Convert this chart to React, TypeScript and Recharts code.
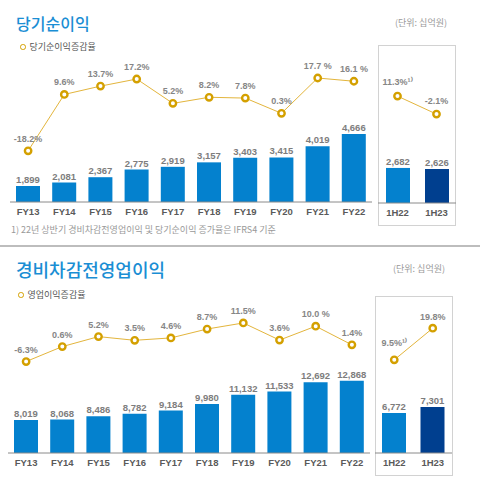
import { Bar, Cell, ComposedChart, LabelList, Line, XAxis, YAxis } from 'recharts';

const fyYears = ['FY13', 'FY14', 'FY15', 'FY16', 'FY17', 'FY18', 'FY19', 'FY20', 'FY21', 'FY22'];
const halves = ['1H22', '1H23'];

const netIncome = [1899, 2081, 2367, 2775, 2919, 3157, 3403, 3415, 4019, 4666];
const netIncomeRate = [-18.2, 9.6, 13.7, 17.2, 5.2, 8.2, 7.8, 0.3, 17.7, 16.1];
const netIncomeRateLabels = ['-18.2%', '9.6%', '13.7%', '17.2%', '5.2%', '8.2%', '7.8%', '0.3%', '17.7 %', '16.1 %'];
const netIncomeHalf = [2682, 2626];
const netIncomeHalfRate = [11.3, -2.1];
const netIncomeHalfRateLabels = ['11.3%¹⁾', '-2.1%'];

const operating = [8019, 8068, 8486, 8782, 9184, 9980, 11132, 11533, 12692, 12868];
const operatingRate = [-6.3, 0.6, 5.2, 3.5, 4.6, 8.7, 11.5, 3.6, 10.0, 1.4];
const operatingRateLabels = ['-6.3%', '0.6%', '5.2%', '3.5%', '4.6%', '8.7%', '11.5%', '3.6%', '10.0 %', '1.4%'];
const operatingHalf = [6772, 7301];
const operatingHalfRate = [9.5, 19.8];
const operatingHalfRateLabels = ['9.5%¹⁾', '19.8%'];

const KR = '"Noto Sans CJK KR", sans-serif';
const LATIN = '"Liberation Sans", Arial, sans-serif';
const BLUE = '#0481ce';
const NAVY = '#003f8f';
const GOLD = '#d4a000';

type PanelProps = {
  left: number;
  top: number;
  width: number;
  plotHeight: number;
  categories: string[];
  values: number[];
  rates: number[];
  rateLabels: string[];
  barDomain: number[];
  rateDomain: number[];
  lastDark?: boolean;
  labelLift?: number[];
};

function Panel({ left, top, width, plotHeight, categories, values, rates, rateLabels, barDomain, rateDomain, lastDark, labelLift }: PanelProps) {
  const rows = categories.map((name, i) => ({
    name,
    value: values[i],
    rate: rates[i],
    rateLabel: rateLabels[i],
  }));

  // the rate labels sit a little higher over some points in the original
  const rateLabel = (props: any) => {
    const lift = labelLift ? labelLift[props.index] : 7;
    return (
      <text
        x={props.x}
        y={props.y - lift - 2}
        textAnchor="middle"
        fill="#868686"
        fontSize={9}
        fontWeight={700}
        fontFamily={LATIN}
      >
        {props.value}
      </text>
    );
  };

  return (
    <div style={{ position: 'absolute', left, top }}>
      <ComposedChart width={width} height={plotHeight + 22} data={rows} margin={{ top: 0, right: 0, bottom: 0, left: 0 }}>
        <XAxis
          dataKey="name"
          height={22}
          interval={0}
          tickLine={false}
          tickMargin={0}
          axisLine={{ stroke: '#8a8a8a', strokeWidth: 1 }}
          tick={{ fill: '#5a5a5a', fontSize: 9.5, fontWeight: 700, fontFamily: LATIN }}
        />
        <YAxis yAxisId="bars" hide domain={barDomain} />
        <YAxis yAxisId="rate" hide domain={rateDomain} />
        <Bar yAxisId="bars" dataKey="value" barSize={24} fill={BLUE} isAnimationActive={false}>
          {rows.map((row, i) => (
            <Cell key={row.name} fill={lastDark && i === rows.length - 1 ? NAVY : BLUE} />
          ))}
          <LabelList
            dataKey="value"
            position="top"
            offset={3}
            formatter={(v: number) => v.toLocaleString('en-US')}
            style={{ fill: '#7d7d7d', fontSize: 9.5, fontWeight: 700, fontFamily: LATIN }}
          />
        </Bar>
        <Line
          yAxisId="rate"
          dataKey="rate"
          stroke="#e3b53c"
          strokeWidth={1}
          dot={{ r: 3.2, stroke: GOLD, strokeWidth: 2.4, fill: '#fff' }}
          isAnimationActive={false}
        >
          <LabelList dataKey="rateLabel" content={rateLabel} />
        </Line>
      </ComposedChart>
    </div>
  );
}

function Title({ text, top, size }: { text: string; top: number; size: number }) {
  return (
    <div style={{ position: 'absolute', left: 16, top, color: '#1a8ed4', fontSize: size, fontWeight: 500, lineHeight: '24px', fontFamily: KR, whiteSpace: 'nowrap' }}>
      {text}
    </div>
  );
}

function RateKey({ text, left, top }: { text: string; left: number; top: number }) {
  return (
    <div style={{ position: 'absolute', left, top, display: 'flex', alignItems: 'center', color: '#555', fontSize: 9, lineHeight: '12px', fontFamily: KR, whiteSpace: 'nowrap' }}>
      <span style={{ width: 3.5, height: 3.5, border: `1.6px solid ${GOLD}`, borderRadius: '50%', marginRight: 4 }} />
      {text}
    </div>
  );
}

function Unit({ left, top }: { left: number; top: number }) {
  return (
    <div style={{ position: 'absolute', left, top, color: '#999', fontSize: 9, lineHeight: '12px', fontFamily: KR, whiteSpace: 'nowrap' }}>
      (단위: 십억원)
    </div>
  );
}

function Box({ left, top, width, height }: { left: number; top: number; width: number; height: number }) {
  return <div style={{ position: 'absolute', left, top, width, height, boxSizing: 'border-box', border: '1.5px solid #d2d2d2' }} />;
}

export default function App() {
  return (
    <div style={{ position: 'absolute', left: 0, top: 0, width: 480, height: 496, background: '#fff', overflow: 'hidden' }}>
      <Title text="당기순이익" top={11} size={16} />
      <RateKey text="당기순이익증감율" left={20} top={41} />
      <Unit left={395} top={17} />
      <Box left={378} top={45} width={78} height={181} />
      <Panel
        left={10}
        top={60}
        width={362}
        plotHeight={142}
        categories={fyYears}
        values={netIncome}
        rates={netIncomeRate}
        rateLabels={netIncomeRateLabels}
        barDomain={[1048, 8601]}
        rateDomain={[-43.4, 26.57]}
      />
      <Panel
        left={378}
        top={60}
        width={78}
        plotHeight={143}
        categories={halves}
        values={netIncomeHalf}
        rates={netIncomeHalfRate}
        rateLabels={netIncomeHalfRateLabels}
        barDomain={[821, 8412]}
        rateDomain={[-68.3, 38.2]}
        lastDark
        labelLift={[9, 8]}
      />
      <div style={{ position: 'absolute', left: 11, top: 224, color: '#999', fontSize: 9, lineHeight: '12px', fontFamily: KR, whiteSpace: 'nowrap' }}>
        1) 22년 상반기 경비차감전영업이익 및 당기순이익 증가율은 IFRS4 기준
      </div>
      <div style={{ position: 'absolute', left: 0, top: 245, width: 480, height: 2, background: '#bdbdbd' }} />

      <Title text="경비차감전영업이익" top={257} size={18} />
      <RateKey text="영업이익증감율" left={18} top={289} />
      <Unit left={393} top={263} />
      <Box left={375} top={296} width={78} height={180} />
      <Panel
        left={8}
        top={295}
        width={362}
        plotHeight={158}
        categories={fyYears}
        values={operating}
        rates={operatingRate}
        rateLabels={operatingRateLabels}
        barDomain={[3945, 23451]}
        rateDomain={[-48.5, 24.4]}
      />
      <Panel
        left={375}
        top={295}
        width={77}
        plotHeight={158}
        categories={halves}
        values={operatingHalf}
        rates={operatingHalfRate}
        rateLabels={operatingHalfRateLabels}
        barDomain={[3232, 17214]}
        rateDomain={[-20.8, 30.6]}
        lastDark
        labelLift={[12, 6]}
      />
    </div>
  );
}
